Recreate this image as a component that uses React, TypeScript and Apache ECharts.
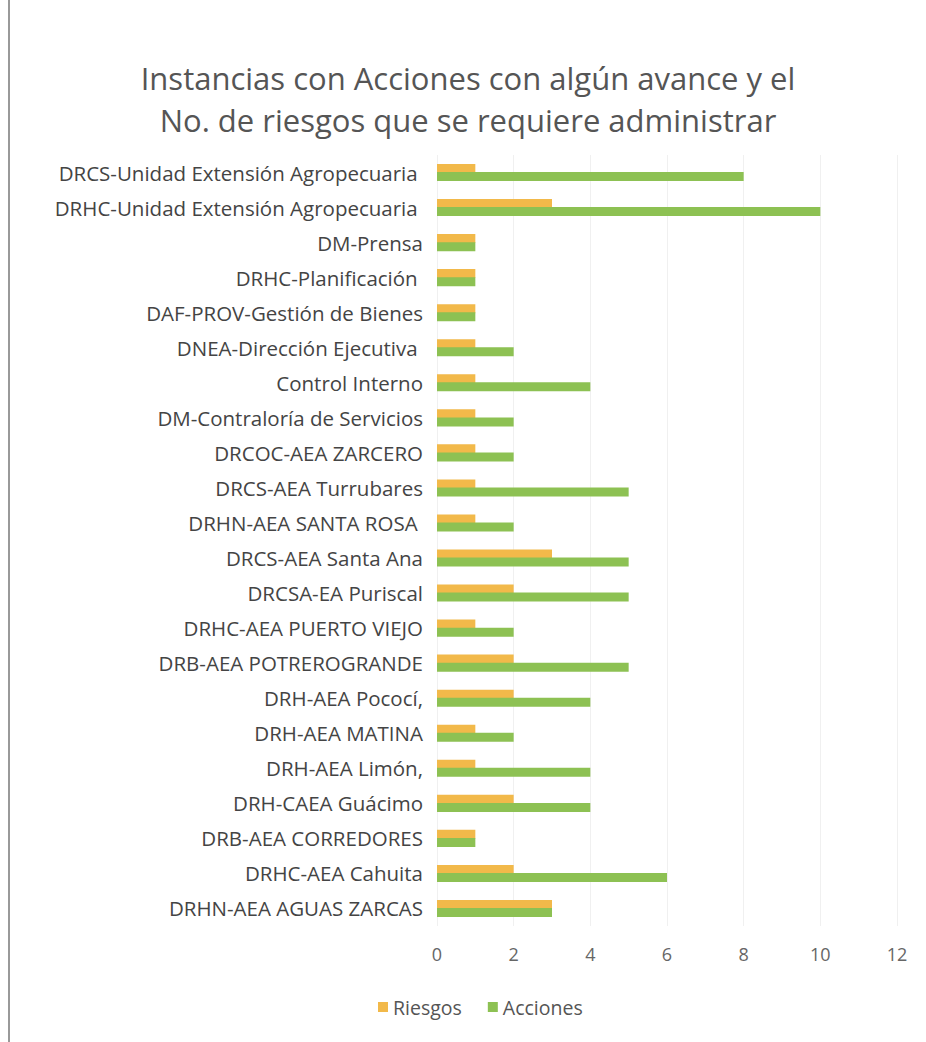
import React, { useEffect, useRef } from "react";
import * as echarts from "echarts";

const categories = [
  "DRCS-Unidad Extensión Agropecuaria ",
  "DRHC-Unidad Extensión Agropecuaria ",
  "DM-Prensa",
  "DRHC-Planificación ",
  "DAF-PROV-Gestión de Bienes",
  "DNEA-Dirección Ejecutiva ",
  "Control Interno",
  "DM-Contraloría de Servicios",
  "DRCOC-AEA ZARCERO",
  "DRCS-AEA Turrubares",
  "DRHN-AEA SANTA ROSA ",
  "DRCS-AEA Santa Ana",
  "DRCSA-EA Puriscal",
  "DRHC-AEA PUERTO VIEJO",
  "DRB-AEA POTREROGRANDE",
  "DRH-AEA Pococí,",
  "DRH-AEA MATINA",
  "DRH-AEA Limón,",
  "DRH-CAEA Guácimo",
  "DRB-AEA CORREDORES",
  "DRHC-AEA Cahuita",
  "DRHN-AEA AGUAS ZARCAS",
];

const riesgos = [1, 3, 1, 1, 1, 1, 1, 1, 1, 1, 1, 3, 2, 1, 2, 2, 1, 1, 2, 1, 2, 3];
const acciones = [8, 10, 1, 1, 1, 2, 4, 2, 2, 5, 2, 5, 5, 2, 5, 4, 2, 4, 4, 1, 6, 3];

const titleLines = [
  "Instancias con Acciones con algún avance y el",
  "No. de riesgos que se requiere administrar",
];

export default function App() {
  const ref = useRef<HTMLDivElement>(null);
  useEffect(() => {
    if (!ref.current) return;
    const chart = echarts.init(ref.current, null, { renderer: "svg" });
    const font = "'Open Sans', 'Noto Sans', sans-serif";
    chart.setOption({
      animation: false,
      backgroundColor: "#ffffff",
      textStyle: { fontFamily: font },
      title: {
        text: titleLines.join("\n"),
        left: 463,
        textAlign: "center",
        top: 52,
        textStyle: {
          fontFamily: font,
          fontSize: 31,
          fontWeight: "normal",
          color: "#555555",
          lineHeight: 42,
        },
      },
      legend: {
        data: ["Riesgos", "Acciones"],
        left: 373,
        top: 992,
        itemWidth: 10,
        itemHeight: 10,
        itemGap: 26,
        icon: "rect",
        textStyle: { fontFamily: font, fontSize: 19.5, color: "#555555" },
      },
      grid: { left: 437, right: 29, top: 155, bottom: 116, containLabel: false },
      xAxis: {
        type: "value",
        min: 0,
        max: 12,
        interval: 2,
        axisLine: { show: false },
        axisTick: { show: false },
        splitLine: { show: true, lineStyle: { color: "#f0f0f0", width: 1 } },
        axisLabel: { fontFamily: font, fontSize: 18, color: "#666666", margin: 19 },
      },
      yAxis: {
        type: "category",
        data: categories,
        inverse: true,
        axisLine: { show: false },
        axisTick: { show: false },
        axisLabel: { fontFamily: font, fontSize: 20.5, color: "#444444", margin: 14 },
      },
      series: [
        {
          name: "Riesgos",
          type: "bar",
          data: riesgos,
          barWidth: 9,
          barGap: "-10%",
          itemStyle: { color: "#F2B94A" },
        },
        {
          name: "Acciones",
          type: "bar",
          data: acciones,
          barWidth: 9,
          itemStyle: { color: "#8DC153" },
        },
      ],
      graphic: [
        {
          type: "line",
          shape: { x1: 9, y1: 0, x2: 9, y2: 1042 },
          style: { stroke: "#777777", lineWidth: 1.5 },
        },
      ],
    });
    return () => chart.dispose();
  }, []);
  return <div ref={ref} style={{ width: 926, height: 1042, position: "absolute", left: 0, top: 0 }} />;
}
